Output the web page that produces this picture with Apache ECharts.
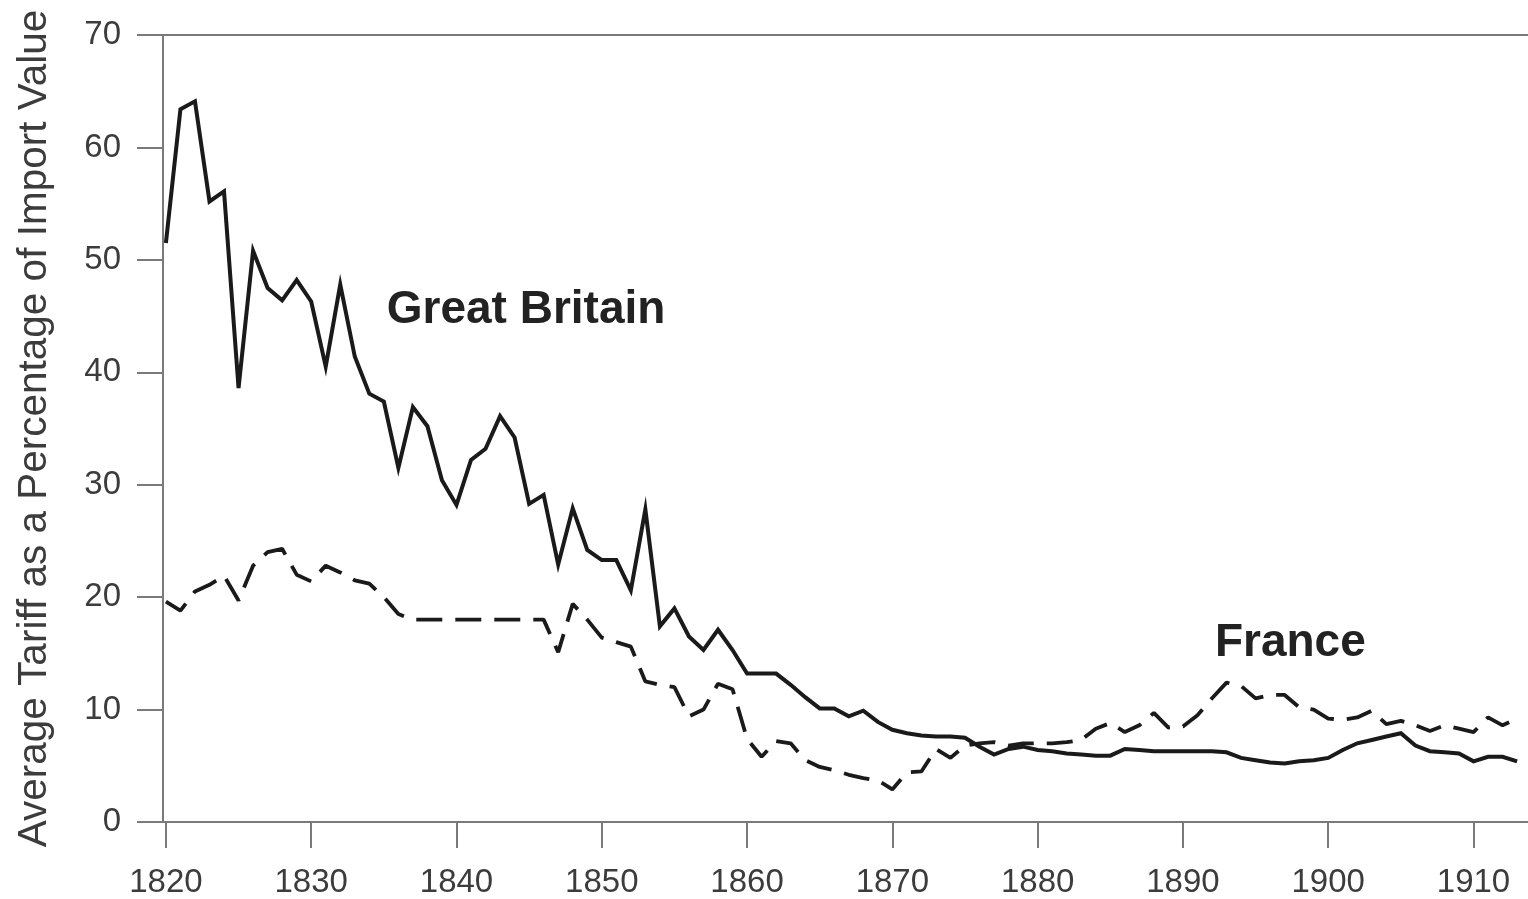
<!DOCTYPE html>
<html>
<head>
<meta charset="utf-8">
<script src="https://cdn.jsdelivr.net/npm/echarts@6/dist/echarts.min.js"></script>
<style>
html,body{margin:0;padding:0;background:#fff;}
#chart{width:1528px;height:899px;}
</style>
</head>
<body>
<div id="chart"></div>
<script>
const startYear = 1820;
const tickYears = [1820, 1830, 1840, 1850, 1860, 1870, 1880, 1890, 1900, 1910];
const britain = [
  51.5, 63.4, 64.1, 55.2, 56.1, 38.6, 50.8, 47.5, 46.4, 48.2,
  46.3, 40.5, 47.8, 41.4, 38.1, 37.4, 31.5, 36.9, 35.2, 30.4,
  28.2, 32.2, 33.2, 36.1, 34.2, 28.3, 29.1, 22.9, 27.9, 24.2,
  23.3, 23.3, 20.6, 27.8, 17.4, 19.0, 16.5, 15.3, 17.1, 15.3,
  13.2, 13.2, 13.2, 12.2, 11.1, 10.1, 10.1, 9.4, 9.9, 8.9,
  8.2, 7.9, 7.7, 7.6, 7.6, 7.5, 6.7, 6.0, 6.5, 6.7,
  6.4, 6.3, 6.1, 6.0, 5.9, 5.9, 6.5, 6.4, 6.3, 6.3,
  6.3, 6.3, 6.3, 6.2, 5.7, 5.5, 5.3, 5.2, 5.4, 5.5,
  5.7, 6.4, 7.0, 7.3, 7.6, 7.9, 6.8, 6.3, 6.2, 6.1,
  5.4, 5.8, 5.8, 5.4
];
const france = [
  19.6, 18.8, 20.5, 21.1, 21.9, 19.7, 22.8, 24.0, 24.3, 22.0,
  21.4, 22.8, 22.2, 21.5, 21.2, 20.0, 18.5, 18.0, 18.0, 18.0,
  18.0, 18.0, 18.0, 18.0, 18.0, 18.0, 18.0, 15.1, 19.4, 18.0,
  16.4, 16.0, 15.6, 12.5, 12.2, 12.0, 9.4, 10.0, 12.3, 11.8,
  7.4, 5.8, 7.2, 7.0, 5.5, 4.9, 4.6, 4.2, 3.9, 3.7,
  2.9, 4.4, 4.5, 6.5, 5.7, 6.8, 7.0, 7.1, 6.8, 7.0,
  7.0, 7.0, 7.1, 7.3, 8.3, 8.8, 8.0, 8.6, 9.7, 8.4,
  8.5, 9.5, 11.0, 12.4, 12.1, 11.0, 11.3, 11.3, 10.2, 10.0,
  9.2, 9.1, 9.3, 9.9, 8.7, 9.0, 8.6, 8.1, 8.6, 8.3,
  8.0, 9.3, 8.6, 9.2
];
const seriesNames = ['Great Britain', 'France'];
const yTitle = 'Average Tariff as a Percentage of Import Value';

const toPairs = arr => arr.map((v, i) => [startYear + i, v]);

const axisGray = '#7a7a7a';
const textGray = '#3c3c3c';
const font = 'Liberation Sans, Arial, Helvetica, sans-serif';

const chart = echarts.init(document.getElementById('chart'), null, {renderer: 'canvas'});
chart.setOption({
  animation: false,
  backgroundColor: '#ffffff',
  grid: {left: 163, right: 0, top: 35, bottom: 77, containLabel: false},
  xAxis: [{
    type: 'value',
    min: 1819.8,
    max: 1913.75,
    position: 'bottom',
    axisLine: {show: true, lineStyle: {color: axisGray, width: 2}},
    axisTick: {show: true, inside: false, length: 26, customValues: tickYears, lineStyle: {color: axisGray, width: 2}},
    axisLabel: {show: true, customValues: tickYears, margin: 44, color: textGray, fontSize: 33, fontFamily: font,
      formatter: v => String(v)},
    splitLine: {show: false}
  }, {
    type: 'value',
    min: 1819.8,
    max: 1913.75,
    position: 'top',
    axisLine: {show: true, onZero: false, lineStyle: {color: axisGray, width: 2}},
    axisTick: {show: false},
    axisLabel: {show: false},
    splitLine: {show: false}
  }],
  yAxis: {
    type: 'value',
    min: 0,
    max: 70,
    interval: 10,
    name: yTitle,
    nameLocation: 'middle',
    nameRotate: 90,
    nameGap: 108,
    nameTextStyle: {color: textGray, fontSize: 40.5, fontFamily: font},
    axisLine: {show: true, lineStyle: {color: axisGray, width: 2}},
    axisTick: {show: true, inside: false, length: 26, lineStyle: {color: axisGray, width: 2}},
    axisLabel: {margin: 42, color: textGray, fontSize: 33, fontFamily: font},
    splitLine: {show: false}
  },
  series: [{
    name: seriesNames[0],
    type: 'line',
    xAxisIndex: 0,
    data: toPairs(britain),
    symbol: 'none',
    lineStyle: {color: '#1a1a1a', width: 4, join: 'miter'},
    markPoint: {
      symbol: 'circle',
      symbolSize: 0,
      data: [{coord: [1835.2, 45.5], value: seriesNames[0]}],
      label: {
        show: true, position: 'right', distance: 0, formatter: seriesNames[0],
        color: '#222', fontSize: 46, fontWeight: 'bold', fontFamily: font
      }
    }
  }, {
    name: seriesNames[1],
    type: 'line',
    xAxisIndex: 0,
    data: toPairs(france),
    symbol: 'none',
    lineStyle: {color: '#1a1a1a', width: 3.8, type: [26, 13]},
    markPoint: {
      symbol: 'circle',
      symbolSize: 0,
      data: [{coord: [1892.2, 15.9], value: seriesNames[1]}],
      label: {
        show: true, position: 'right', distance: 0, formatter: seriesNames[1],
        color: '#222', fontSize: 46, fontWeight: 'bold', fontFamily: font
      }
    }
  }]
});
</script>
</body>
</html>
